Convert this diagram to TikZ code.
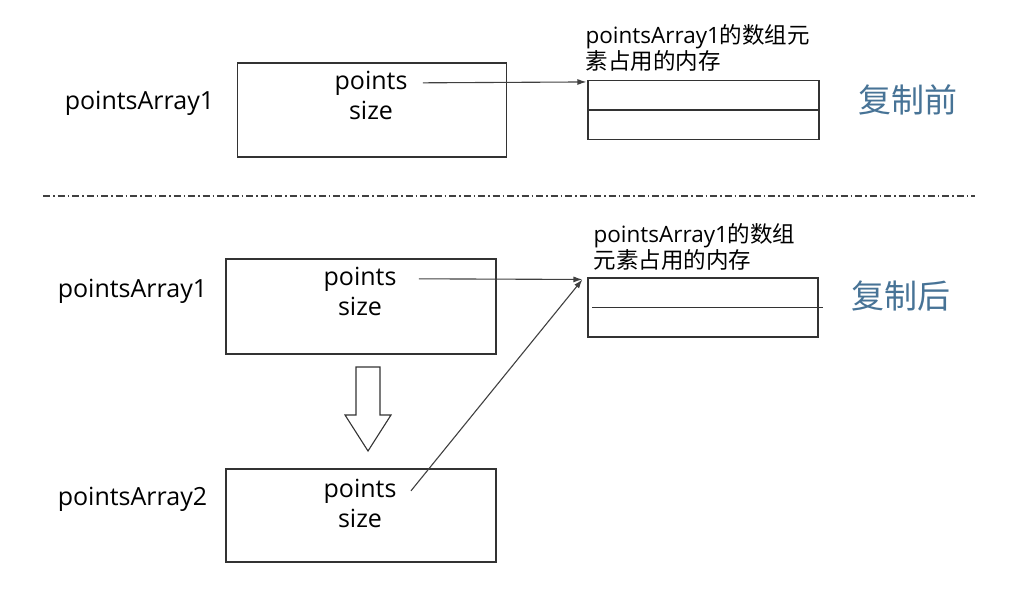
\documentclass[tikz,border=0pt]{standalone}
\usepackage{fontspec}
\setmainfont{Open Sans}
\newfontfamily\cjk{Noto Sans CJK SC}
\usetikzlibrary{positioning,calc,arrows.meta}
\definecolor{copyblue}{RGB}{71,115,150}
\definecolor{linegray}{RGB}{64,64,64}

\begin{document}
\begin{tikzpicture}
  [x=1pt,y=-1pt,line width=1.1pt,
   structBox/.style={draw=black!80,minimum width=269pt,minimum height=94pt,inner sep=0pt},
   memBox/.style={draw=black!80,minimum width=231pt,minimum height=59pt,inner sep=0pt},
   nameN/.style={font=\fontsize{25}{28}\selectfont,inner sep=0pt,anchor=base},
   memLabel/.style={font=\fontsize{22.5}{22}\selectfont,align=left,inner sep=0pt,anchor=base west},
   stateN/.style={font=\cjk\fontsize{33}{33}\selectfont,text=copyblue,inner sep=0pt},
   ptr/.style={draw=linegray,-{Latex[length=9pt,width=6pt]}},
   hollow/.style={draw=black!80,fill=white},
  ]
 \useasboundingbox (0,0) rectangle (1012,589);

 % before copying
 \node[structBox] (arr1) at (372,110) {};
 \node[nameN] (name1) at (139.5,109) {pointsArray1};
 \node[nameN] (pts1) at (371,89) {points};
 \node[nameN] (size1) at (371,119) {size};
 \node[memBox] (memTop) at (703.5,110) {};
 \draw[black!80] (memTop.west) -- (memTop.east);
 \node[memLabel] (lblTop) at (585,69) {pointsArray1{\cjk 的数组元}\\{\cjk 素占用的内存}};
 \node[stateN] (before) at (908,100) {复制前};

 \draw[ptr] ([xshift=15pt]pts1.east) -- ($(memTop.north west)+(-1,2)$);

 \draw[linegray,line width=1.3pt,dash pattern=on 7pt off 3pt on 1.5pt off 3pt]
   (43,196) -- (975,196);

 % after copying
 \node[structBox,minimum width=270pt,minimum height=95pt] (arr1b) at (361,306.5) {};
 \node[nameN] (name1b) at (132.5,297) {pointsArray1};
 \node[nameN] (pts1b) at (360,285) {points};
 \node[nameN] (size1b) at (360,315) {size};
 \node[memBox,minimum width=230pt] (memBot) at (703,307.5) {};
 \draw[black!80] ([xshift=5pt]memBot.west) -- ([xshift=4pt]memBot.east);
 \node[memLabel] (lblBot) at (593,268) {pointsArray1{\cjk 的数组}\\{\cjk 元素占用的内存}};
 \node[stateN] (after) at (901,296) {复制后};

 \draw[hollow] (356,367) -- (380,367) -- (380,415) -- (391,415) -- (368,451)
   -- (345,415) -- (356,415) -- cycle;

 \node[structBox,minimum width=270pt,minimum height=93pt] (arr2) at (361,515.5) {};
 \node[nameN] (name2) at (132.5,505) {pointsArray2};
 \node[nameN] (pts2) at (360,497) {points};
 \node[nameN] (size2) at (360,527) {size};

 \coordinate (memIn) at ($(memBot.north west)+(-5,2)$);
 \draw[ptr] ([xshift=22pt]pts1b.east) -- (memIn);
 \draw[ptr] ([xshift=14pt]pts2.east) -- (memIn);

\end{tikzpicture}
\end{document}
